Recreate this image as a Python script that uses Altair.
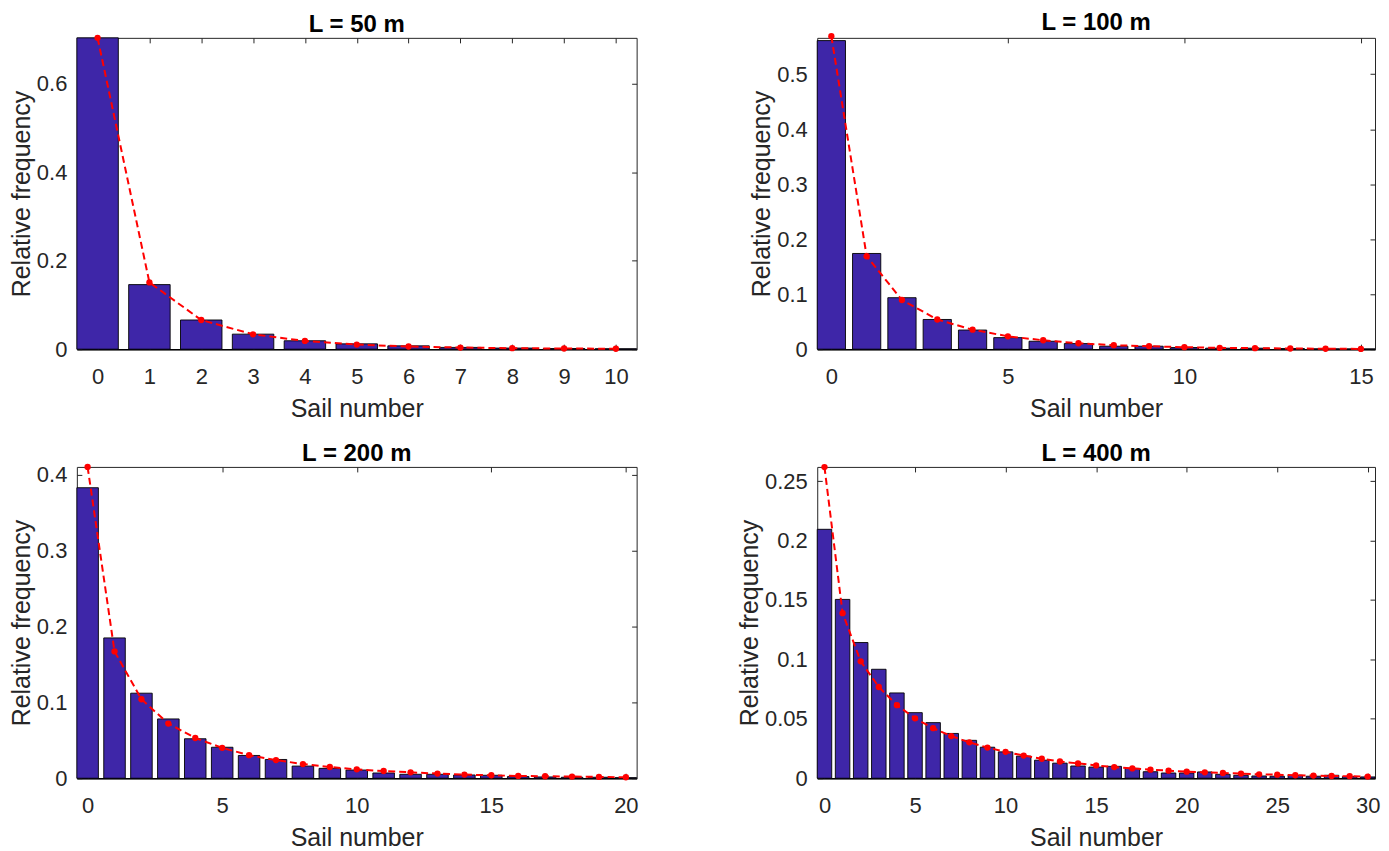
import altair as alt
import pandas as pd

# ---------------- data ----------------
sail_50 = list(range(0, 11))
bars_50 = [0.704, 0.146, 0.066, 0.034, 0.019, 0.012, 0.0075, 0.004, 0.0025, 0.0015, 0.001]
fit_50 = [0.704, 0.151, 0.066, 0.0336, 0.0187, 0.0104, 0.006, 0.0037, 0.0022, 0.0015, 0.001]
xticks_50 = list(range(0, 11))
yticks_50 = [0, 0.2, 0.4, 0.6]
ymax_50 = 0.704

sail_100 = list(range(0, 16))
bars_100 = [0.561, 0.174, 0.0936, 0.054, 0.0348, 0.021, 0.0144, 0.0102, 0.0054, 0.0054,
            0.003, 0.0018, 0.0018, 0.0012, 0.0006, 0.0005]
fit_100 = [0.569, 0.169, 0.0894, 0.054, 0.0354, 0.0234, 0.0162, 0.0108, 0.0072, 0.0054,
           0.0036, 0.0024, 0.0018, 0.0012, 0.0008, 0.0005]
xticks_100 = [0, 5, 10, 15]
yticks_100 = [0, 0.1, 0.2, 0.3, 0.4, 0.5]
ymax_100 = 0.566

sail_200 = list(range(0, 21))
bars_200 = [0.3826, 0.1848, 0.112, 0.0781, 0.052, 0.0408, 0.030, 0.0247, 0.016, 0.013,
            0.0108, 0.0069, 0.0052, 0.0052, 0.0043, 0.0039, 0.0022, 0.0017, 0.0013, 0.0013, 0.0008]
fit_200 = [0.41, 0.167, 0.104, 0.072, 0.053, 0.040, 0.0304, 0.0239, 0.0187, 0.0148,
           0.0117, 0.0095, 0.0078, 0.0061, 0.0048, 0.0039, 0.003, 0.0026, 0.0022, 0.0017, 0.0013]
xticks_200 = [0, 5, 10, 15, 20]
yticks_200 = [0, 0.1, 0.2, 0.3, 0.4]
ymax_200 = 0.41

sail_400 = list(range(0, 31))
bars_400 = [0.2095, 0.1505, 0.1142, 0.0917, 0.0718, 0.0552, 0.0468, 0.0377, 0.0319, 0.0261,
            0.0222, 0.0186, 0.0152, 0.0127, 0.0103, 0.0094, 0.0100, 0.0083, 0.0055, 0.0044,
            0.0044, 0.0053, 0.0033, 0.0025, 0.0019, 0.0017, 0.0025, 0.0017, 0.0025, 0.0014, 0.0011]
fit_400 = [0.2619, 0.1389, 0.0984, 0.0768, 0.0615, 0.0504, 0.0421, 0.0355, 0.0302, 0.0258,
           0.0222, 0.0191, 0.0164, 0.0141, 0.0125, 0.0108, 0.0094, 0.0083, 0.0072, 0.0064,
           0.0055, 0.005, 0.0044, 0.0039, 0.0033, 0.003, 0.0025, 0.0022, 0.0019, 0.0017, 0.0014]
xticks_400 = [0, 5, 10, 15, 20, 25, 30]
yticks_400 = [0, 0.05, 0.1, 0.15, 0.2, 0.25]
ymax_400 = 0.262

titles = ["L = 50 m", "L = 100 m", "L = 200 m", "L = 400 m"]

# ---------------- styling ----------------
BAR = "#3E26A8"
INK = "#262626"
FONT = "Liberation Sans"
W_LEFT, W_RIGHT, H = 561, 559, 312
HALF_BAR = 0.4


def tick_axis(values, orient):
    return alt.Axis(values=values, orient=orient, offset=-5, labels=False, domain=False,
                    grid=False, ticks=True, tickSize=5, tickColor=INK, tickWidth=1, title=None)


def panel(title, n, bars, fit, xticks, yticks, ymax, width):
    df = pd.DataFrame({"n": n, "bar": bars, "fit": fit})
    xs = alt.Scale(domain=[n[0] - HALF_BAR, n[-1] + HALF_BAR], nice=False, zero=False)
    ys = alt.Scale(domain=[0, ymax], nice=False, zero=True)
    base = alt.Chart(df)

    bar_layer = base.transform_calculate(
        x0=f"datum.n - {HALF_BAR}", x1=f"datum.n + {HALF_BAR}"
    ).mark_bar(color=BAR, stroke="black", strokeWidth=0.9).encode(
        x=alt.X("x0:Q", scale=xs,
                axis=alt.Axis(values=xticks, ticks=False, domain=True, domainColor="black",
                              domainWidth=1.5, grid=False,
                              title="Sail number", labelPadding=17, titlePadding=9)),
        x2="x1:Q",
        y=alt.Y("bar:Q", scale=ys,
                axis=alt.Axis(values=yticks, ticks=False, domain=False, grid=False,
                              format="~g", title="Relative frequency",
                              labelPadding=10, titlePadding=2)),
        y2=alt.datum(0),
    )
    line_layer = base.mark_line(color="#FF0000", strokeDash=[7, 4], strokeWidth=2).encode(
        x=alt.X("n:Q", scale=xs, axis=tick_axis(xticks, "bottom")),
        y=alt.Y("fit:Q", scale=ys, axis=tick_axis(yticks, "left")),
    )
    pt_layer = base.mark_circle(color="#FF0000", size=40, opacity=1).encode(
        x=alt.X("n:Q", scale=xs, axis=tick_axis(xticks, "top")),
        y=alt.Y("fit:Q", scale=ys, axis=tick_axis(yticks, "right")),
    )
    return alt.layer(bar_layer, line_layer, pt_layer).resolve_axis(
        x="independent", y="independent"
    ).properties(
        width=width, height=H,
        title=alt.TitleParams(title, fontSize=24, fontWeight="bold", font=FONT,
                              color="black", offset=-3),
    )


p1 = panel(titles[0], sail_50, bars_50, fit_50, xticks_50, yticks_50, ymax_50, W_LEFT)
p2 = panel(titles[1], sail_100, bars_100, fit_100, xticks_100, yticks_100, ymax_100, W_RIGHT)
p3 = panel(titles[2], sail_200, bars_200, fit_200, xticks_200, yticks_200, ymax_200, W_LEFT)
p4 = panel(titles[3], sail_400, bars_400, fit_400, xticks_400, yticks_400, ymax_400, W_RIGHT)

chart = alt.concat(
    p1, p2, p3, p4, columns=2, spacing={"row": 19, "column": 98}
).properties(
    padding={"top": 1, "left": 0, "right": 0, "bottom": 0}, background="white"
).configure_view(
    stroke=INK, strokeWidth=1
).configure_axis(
    labelFont=FONT, labelFontSize=22, labelColor=INK,
    titleFont=FONT, titleFontSize=25, titleColor=INK, titleFontWeight="normal",
)

chart.save("out.html", embed_options={"renderer": "svg", "actions": False})
